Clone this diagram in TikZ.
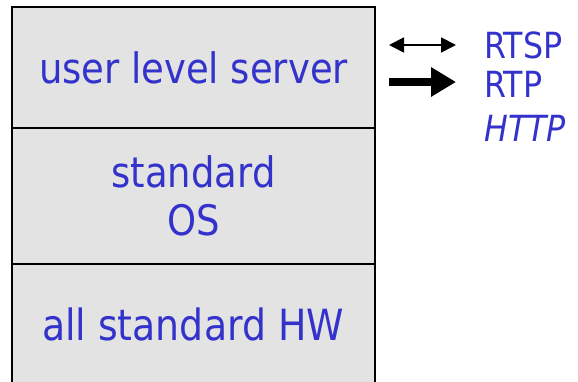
\documentclass[tikz,border=0pt]{standalone}
\usepackage{fontspec}
\setmainfont{DejaVu Sans}[FakeStretch=0.88]
\usetikzlibrary{arrows.meta}
\definecolor{txtblue}{HTML}{3333CC}
\definecolor{boxgray}{HTML}{E3E3E3}
\begin{document}
\begin{tikzpicture}[x=1pt,y=-1pt,
  layer/.style={draw=black,line width=2pt,fill=boxgray,anchor=north west,inner sep=0pt,
    minimum width=363pt,text=txtblue,font=\fontsize{42}{50}\selectfont,align=center},
  proto/.style={anchor=west,inner sep=0pt,text=txtblue,font=\fontsize{36}{42}\selectfont}]
\useasboundingbox (0,0) rectangle (578,382);
\node[layer,minimum height=121pt] (srv) at (11,6) {user level server};
\node[layer,minimum height=136pt] (os) at (11,127) {standard\\[-2pt]OS};
\node[layer,minimum height=140pt] (hw) at (11,263) {};
\node[text=txtblue,font=\fontsize{43}{50}\selectfont,inner sep=0pt] (hwt) at (193,324) {all standard HW};
\coordinate (a1) at (389,45);
\coordinate (a2) at (456,45);
\coordinate (b1) at (389,82);
\coordinate (b2) at (456,82);
\draw[line width=1.8pt,{Triangle[length=15pt,width=15pt]}-{Triangle[length=15pt,width=15pt]}] (a1) -- (a2);
\draw[line width=8pt,-{Triangle[length=25pt,width=28pt]}] (b1) -- (b2);
\node[proto] (rtsp) at (484,45) {RTSP};
\node[proto] (rtp) at (484,84) {RTP};
\node[proto,font=\fontsize{36}{42}\selectfont\itshape] (http) at (484,128) {HTTP};
\end{tikzpicture}
\end{document}
